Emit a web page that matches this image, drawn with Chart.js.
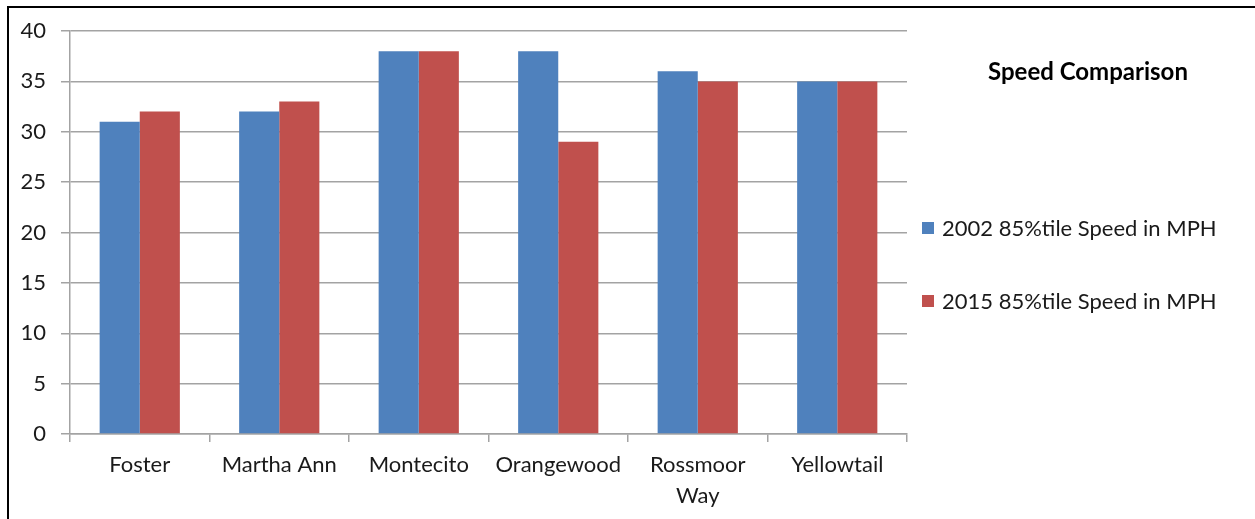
<!DOCTYPE html>
<html>
<head>
<meta charset="utf-8">
<script src="https://cdn.jsdelivr.net/npm/chart.js@4/dist/chart.umd.min.js"></script>
<style>
  html, body { margin: 0; padding: 0; background: #fff; overflow: hidden; }
  #wrap { position: relative; width: 1255px; height: 519px; }
  #frame { position: absolute; left: 7px; top: 6px; right: -10px; bottom: -10px;
           border-left: 2px solid #000; border-top: 2px solid #000; pointer-events: none; }
  canvas { position: absolute; left: 0; top: 0; }
</style>
</head>
<body>
<div id="wrap">
  <canvas id="chart" width="1255" height="519"></canvas>
  <div id="frame"></div>
</div>
<script>
// Streets surveyed and their 85th-percentile speeds (MPH)
const streets = ['Foster', 'Martha Ann', 'Montecito', 'Orangewood', ['Rossmoor', 'Way'], 'Yellowtail'];
const speeds2002 = [31, 32, 38, 38, 36, 35];
const speeds2015 = [32, 33, 38, 29, 35, 35];
const seriesNames = ['2002 85%tile Speed in MPH', '2015 85%tile Speed in MPH'];
const seriesColors = ['#4F81BD', '#C0504D'];
const chartTitle = 'Speed Comparison';
const yMax = 40;
const yStep = 5;

const FONT = 'Lato, Calibri, Carlito, sans-serif';
const TEXT = '#1a1a1a';
const GRID = '#a3a3a3';

// Title and legend drawn in the right-hand panel
const sidePanel = {
  id: 'sidePanel',
  afterDraw(chart) {
    const ctx = chart.ctx;
    ctx.save();
    ctx.fillStyle = '#000';
    ctx.font = 'bold 24px ' + FONT;
    ctx.textAlign = 'center';
    ctx.textBaseline = 'alphabetic';
    ctx.fillText(chartTitle, 1088, 80);

    ctx.font = '22px ' + FONT;
    ctx.textAlign = 'left';
    ctx.textBaseline = 'middle';
    const rows = [228, 301];
    chart.data.datasets.forEach((ds, i) => {
      const y = rows[i];
      ctx.fillStyle = ds.backgroundColor;
      ctx.fillRect(922, y - 6, 12, 12);
      ctx.fillStyle = TEXT;
      ctx.fillText(ds.label, 942, y + 1);
    });
    ctx.restore();
  }
};

new Chart(document.getElementById('chart'), {
  type: 'bar',
  data: {
    labels: streets,
    datasets: [
      { label: seriesNames[0], data: speeds2002, backgroundColor: seriesColors[0] },
      { label: seriesNames[1], data: speeds2015, backgroundColor: seriesColors[1] }
    ]
  },
  options: {
    responsive: false,
    animation: false,
    devicePixelRatio: 1,
    layout: { padding: { top: 31, right: 348, left: 0, bottom: 0 } },
    datasets: { bar: { categoryPercentage: 0.575, barPercentage: 1.0 } },
    plugins: {
      legend: { display: false },
      title: { display: false },
      tooltip: { enabled: false }
    },
    scales: {
      x: {
        offset: true,
        grid: {
          offset: true, drawOnChartArea: false, drawTicks: true,
          tickLength: 8, color: GRID, lineWidth: 1.5
        },
        border: { display: true, color: GRID, width: 1.5 },
        ticks: {
          color: TEXT, padding: 8, maxRotation: 0, autoSkip: false,
          font: { family: FONT, size: 22, lineHeight: 1.4 }
        },
        afterFit(scale) { scale.height = 519 - 434; }
      },
      y: {
        min: 0, max: yMax,
        grid: { color: GRID, lineWidth: 1.5, tickLength: 9, drawTicks: true },
        border: { display: true, color: GRID, width: 1.5 },
        ticks: {
          stepSize: yStep, color: TEXT, padding: 15,
          font: { family: FONT, size: 22 }
        },
        afterFit(scale) { scale.width = 70; }
      }
    }
  },
  plugins: [sidePanel]
});
</script>
</body>
</html>
